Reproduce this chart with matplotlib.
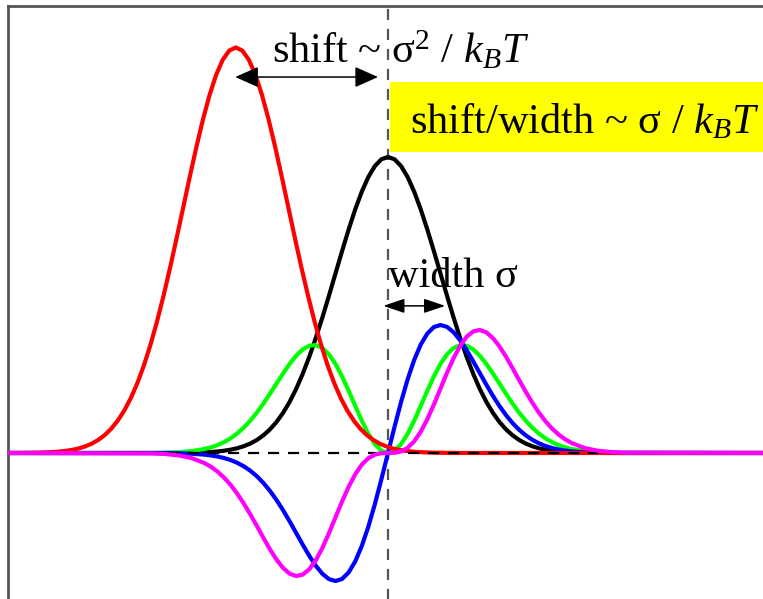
import matplotlib.pyplot as plt
from matplotlib.patches import Rectangle

#---------------------------------------#
# CURVE DATA (x in units of sigma, y relative to the centre peak)
#---------------------------------------#
X = [-7.5, -4.5, -4.25, -4.0, -3.75,
     -3.5, -3.375, -3.25, -3.125, -3.0, -2.875, -2.75, -2.625, -2.5, -2.375, -2.25, -2.125,
     -2.0, -1.875, -1.75, -1.625, -1.5, -1.375, -1.25, -1.125, -1.0, -0.875, -0.75, -0.625,
     -0.5, -0.375, -0.25, -0.125, 0.0,
     0.125, 0.25, 0.375, 0.5, 0.625, 0.75, 0.875, 1.0, 1.125, 1.25, 1.375, 1.5, 1.625,
     1.75, 1.875, 2.0, 2.125, 2.25, 2.375, 2.5, 2.625, 2.75, 2.875, 3.0, 3.125, 3.25, 3.375,
     3.5, 3.75, 4.0, 4.25, 4.5, 7.5]

# unshifted distribution
BLACK = [0.0, 0.0000, 0.0001, 0.0003, 0.0009,
         0.0022, 0.0034, 0.0051, 0.0076, 0.0111, 0.0160, 0.0228, 0.0319, 0.0439, 0.0596, 0.0796, 0.1046,
         0.1353, 0.1724, 0.2163, 0.2671, 0.3247, 0.3886, 0.4578, 0.5311, 0.6065, 0.6819, 0.7548, 0.8226,
         0.8825, 0.9321, 0.9692, 0.9922, 1.0,
         0.9922, 0.9692, 0.9321, 0.8825, 0.8226, 0.7548, 0.6819, 0.6065, 0.5311, 0.4578, 0.3886, 0.3247, 0.2671,
         0.2163, 0.1724, 0.1353, 0.1046, 0.0796, 0.0596, 0.0439, 0.0319, 0.0228, 0.0160, 0.0111, 0.0076, 0.0051, 0.0034,
         0.0022, 0.0009, 0.0003, 0.0001, 0.0000, 0.0]

# first order term
BLUE = [0.0, -0.0001, -0.0004, -0.0010, -0.0024,
        -0.0055, -0.0081, -0.0118, -0.0169, -0.0237, -0.0329, -0.0447, -0.0597, -0.0783, -0.1009, -0.1277, -0.1585,
        -0.1929, -0.2305, -0.2699, -0.3094, -0.3473, -0.3809, -0.4080, -0.4260, -0.4324, -0.4255, -0.4036, -0.3666,
        -0.3146, -0.2492, -0.1728, -0.0884, 0.0,
        0.0884, 0.1728, 0.2492, 0.3146, 0.3666, 0.4036, 0.4255, 0.4324, 0.4260, 0.4080, 0.3809, 0.3473, 0.3094,
        0.2699, 0.2305, 0.1929, 0.1585, 0.1277, 0.1009, 0.0783, 0.0597, 0.0447, 0.0329, 0.0237, 0.0169, 0.0118, 0.0081,
        0.0055, 0.0024, 0.0010, 0.0004, 0.0001, 0.0]

# second order term
GREEN = [0.0, 0.0004, 0.0011, 0.0027, 0.0061,
         0.0133, 0.0190, 0.0266, 0.0367, 0.0496, 0.0658, 0.0855, 0.1090, 0.1361, 0.1667, 0.1999, 0.2342,
         0.2684, 0.3007, 0.3286, 0.3498, 0.3624, 0.3644, 0.3548, 0.3334, 0.3008, 0.2590, 0.2106, 0.1594,
         0.1094, 0.0650, 0.0300, 0.0077, 0.0,
         0.0077, 0.0300, 0.0650, 0.1094, 0.1594, 0.2106, 0.2590, 0.3008, 0.3334, 0.3548, 0.3644, 0.3624, 0.3498,
         0.3286, 0.3007, 0.2684, 0.2342, 0.1999, 0.1667, 0.1361, 0.1090, 0.0855, 0.0658, 0.0496, 0.0367, 0.0266, 0.0190,
         0.0133, 0.0061, 0.0027, 0.0011, 0.0004, 0.0]

# third order term
MAGENTA = [0.0, -0.0013, -0.0033, -0.0077, -0.0166,
           -0.0337, -0.0463, -0.0625, -0.0829, -0.1074, -0.1367, -0.1700, -0.2069, -0.2459, -0.2861, -0.3251, -0.3598,
           -0.3880, -0.4075, -0.4156, -0.4108, -0.3929, -0.3621, -0.3205, -0.2711, -0.2174, -0.1638, -0.1142, -0.0720,
           -0.0395, -0.0176, -0.0054, -0.0007, 0.0,
           0.0007, 0.0054, 0.0176, 0.0395, 0.0720, 0.1142, 0.1638, 0.2174, 0.2711, 0.3205, 0.3621, 0.3929, 0.4108,
           0.4156, 0.4075, 0.3880, 0.3598, 0.3251, 0.2861, 0.2459, 0.2069, 0.1700, 0.1367, 0.1074, 0.0829, 0.0625, 0.0463,
           0.0337, 0.0166, 0.0077, 0.0033, 0.0013, 0.0]

# shifted distribution
RED_X = [-7.5, -7.4, -7.15, -6.9, -6.65,
         -6.4, -6.275, -6.15, -6.025, -5.9, -5.775, -5.65, -5.525, -5.4, -5.275, -5.15, -5.025,
         -4.9, -4.775, -4.65, -4.525, -4.4, -4.275, -4.15, -4.025, -3.9, -3.775, -3.65, -3.525,
         -3.4, -3.275, -3.15, -3.025, -2.9,
         -2.775, -2.65, -2.525, -2.4, -2.275, -2.15, -2.025, -1.9, -1.775, -1.65, -1.525, -1.4, -1.275,
         -1.15, -1.025, -0.9, -0.775, -0.65, -0.525, -0.4, -0.275, -0.15, -0.025, 0.1, 0.225, 0.35, 0.475,
         0.6, 0.85, 1.1, 1.35, 1.6, 7.5]
RED = [0.0, 0.0001, 0.0002, 0.0005, 0.0012,
       0.0030, 0.0046, 0.0070, 0.0104, 0.0150, 0.0220, 0.0310, 0.0437, 0.0601, 0.0816, 0.1091, 0.1433,
       0.1854, 0.2362, 0.2963, 0.3659, 0.4448, 0.5323, 0.6272, 0.7276, 0.8309, 0.9343, 1.0341, 1.1269,
       1.2090, 1.2770, 1.3278, 1.3593, 1.3700,
       1.3593, 1.3278, 1.2770, 1.2090, 1.1269, 1.0341, 0.9343, 0.8309, 0.7276, 0.6272, 0.5323, 0.4448, 0.3659,
       0.2963, 0.2362, 0.1854, 0.1433, 0.1091, 0.0816, 0.0601, 0.0437, 0.0310, 0.0220, 0.0150, 0.0104, 0.0070, 0.0046,
       0.0030, 0.0012, 0.0005, 0.0002, 0.0001, 0.0]

# annotation positions
SHIFT_ARROW = (-2.91, -0.19, 1.270)
WIDTH_ARROW = (-0.09, 1.09, 0.497)
#---------------------------------------#

plt.rcParams['font.family'] = ['Liberation Serif', 'DejaVu Serif']
plt.rcParams['mathtext.fontset'] = 'custom'
plt.rcParams['mathtext.rm'] = 'Liberation Serif'
plt.rcParams['mathtext.it'] = 'Liberation Serif:italic'

fig = plt.figure(figsize=(7.63, 5.99), dpi=100)
ax = fig.add_axes([0.0105, -0.035, 1.0118, 1.025])
ax.set_xlim(-7.24, 7.47)
ax.set_ylim(-0.564, 1.510)
ax.set_xticks([])
ax.set_yticks([])
for side in ['right', 'bottom']:
    ax.spines[side].set_visible(False)
for side in ['left', 'top']:
    ax.spines[side].set_color('#555555')
    ax.spines[side].set_linewidth(2)

# the curves
style = dict(lw=3, solid_joinstyle='round', solid_capstyle='round')
ax.plot(X, BLACK, color='black', zorder=2, **style)
ax.plot(X, GREEN, color='#00ff00', zorder=3, **style)
ax.plot(X, BLUE, color='#0000ff', zorder=4, **style)
ax.plot(RED_X, RED, color='#ff0000', zorder=5, **style)
ax.axhline(0, color='black', lw=1.6, ls=(0, (5, 4)), zorder=6)
ax.axvline(0, color='#555555', lw=1.6, ls=(0, (5, 4)), zorder=1)
ax.plot(X, MAGENTA, color='#ff00ff', zorder=7, **style)

# highlighted ratio box
ax.add_patch(Rectangle((0.04, 1.017), 7.6, 0.236, facecolor='#ffff00',
                       edgecolor='none', zorder=1.5))
ax.text(0.42, 1.081, r'shift/width ~ σ / $k_BT$', fontsize=30.5,
        va='baseline', ha='left', zorder=8)

# shift arrow and label
x0, x1, y = SHIFT_ARROW
ax.annotate('', xy=(x0, y), xytext=(x1, y),
            arrowprops=dict(arrowstyle='<|-|>,head_length=0.72,head_width=0.32',
                            mutation_scale=20, color='black', lw=1.1,
                            shrinkA=0, shrinkB=0), zorder=8)
ax.text(-2.21, 1.318, r'shift ~ $\mathrm{σ}^2$ / $k_BT$', fontsize=30.5,
        va='baseline', ha='left', zorder=8)

# width arrow and label
x0, x1, y = WIDTH_ARROW
ax.annotate('', xy=(x0, y), xytext=(x1, y),
            arrowprops=dict(arrowstyle='<|-|>,head_length=0.65,head_width=0.22',
                            mutation_scale=20, color='black', lw=1.1,
                            shrinkA=0, shrinkB=0), zorder=8)
ax.text(0.0, 0.561, 'width σ', fontsize=30.5, va='baseline', ha='left', zorder=8)

fig.savefig('out.png', dpi=100)
